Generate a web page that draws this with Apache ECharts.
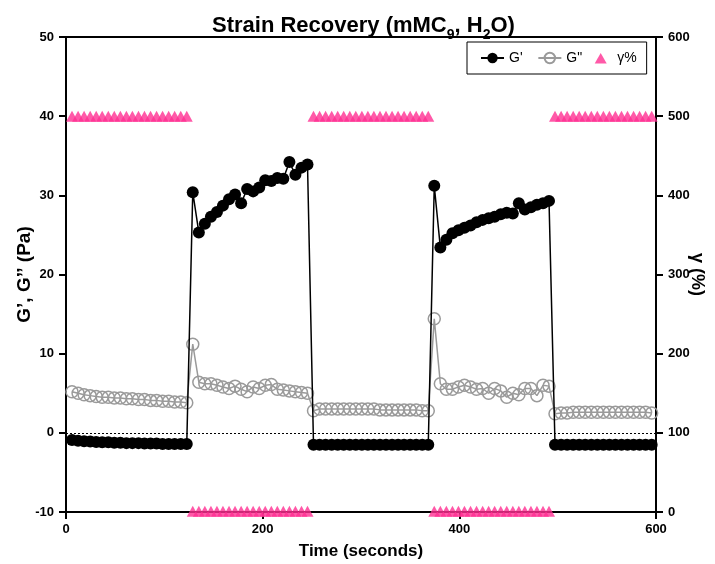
<!DOCTYPE html>
<html>
<head>
<meta charset="utf-8">
<script src="https://cdn.jsdelivr.net/npm/echarts@6/dist/echarts.min.js"></script>
<style>
  html, body { margin: 0; padding: 0; background: #fff; }
  #chart { width: 715px; height: 564px; }
</style>
</head>
<body>
<div id="chart"></div>
<script>
// Sample times (s) of the oscillatory sweep, five alternating strain blocks
const timeSec = [
  6.1, 12.3, 18.4, 24.6, 30.7, 36.8, 43.0, 49.1, 55.3, 61.4, 67.5, 73.7, 79.8, 86.0, 92.1, 98.2, 104.4, 110.5, 116.7, 122.8,
  128.9, 135.1, 141.2, 147.4, 153.5, 159.6, 165.8, 171.9, 178.1, 184.2, 190.3, 196.5, 202.6, 208.8, 214.9, 221.0, 227.2, 233.3, 239.5, 245.6,
  251.7, 257.9, 264.0, 270.2, 276.3, 282.4, 288.6, 294.7, 300.9, 307.0, 313.1, 319.3, 325.4, 331.6, 337.7, 343.8, 350.0, 356.1, 362.3, 368.4,
  374.5, 380.7, 386.8, 393.0, 399.1, 405.2, 411.4, 417.5, 423.7, 429.8, 435.9, 442.1, 448.2, 454.4, 460.5, 466.6, 472.8, 478.9, 485.1, 491.2,
  497.3, 503.5, 509.6, 515.8, 521.9, 528.0, 534.2, 540.3, 546.5, 552.6, 558.7, 564.9, 571.0, 577.2, 583.3, 589.4, 595.6
];

// Storage modulus G' (Pa)
const storageModulus = [
  -0.9, -1.0, -1.05, -1.1, -1.15, -1.2, -1.2, -1.25, -1.25, -1.3, -1.3, -1.3, -1.35, -1.35, -1.35, -1.4, -1.4, -1.4, -1.4, -1.4,
  30.4, 25.3, 26.4, 27.3, 27.9, 28.7, 29.5, 30.1, 29.0, 30.8, 30.5, 31.0, 31.9, 31.8, 32.2, 32.1, 34.2, 32.6, 33.5, 33.9,
  -1.5, -1.5, -1.5, -1.5, -1.5, -1.5, -1.5, -1.5, -1.5, -1.5, -1.5, -1.5, -1.5, -1.5, -1.5, -1.5, -1.5, -1.5, -1.5, -1.5,
  31.2, 23.4, 24.4, 25.2, 25.6, 25.9, 26.2, 26.6, 26.9, 27.1, 27.3, 27.6, 27.8, 27.7, 29.0, 28.2, 28.5, 28.8, 29.0, 29.3,
  -1.5, -1.5, -1.5, -1.5, -1.5, -1.5, -1.5, -1.5, -1.5, -1.5, -1.5, -1.5, -1.5, -1.5, -1.5, -1.5, -1.5
];

// Loss modulus G'' (Pa)
const lossModulus = [
  5.2, 5.0, 4.8, 4.7, 4.6, 4.5, 4.5, 4.4, 4.4, 4.3, 4.3, 4.2, 4.2, 4.1, 4.1, 4.0, 4.0, 3.9, 3.9, 3.8,
  11.2, 6.4, 6.2, 6.2, 6.0, 5.8, 5.6, 5.9, 5.5, 5.2, 5.8, 5.6, 6.0, 6.1, 5.5, 5.4, 5.3, 5.2, 5.1, 5.0,
  2.8, 3.0, 3.0, 3.0, 3.0, 3.0, 3.0, 3.0, 3.0, 3.0, 3.0, 2.9, 2.9, 2.9, 2.9, 2.9, 2.9, 2.9, 2.8, 2.8,
  14.4, 6.2, 5.5, 5.5, 5.8, 6.0, 5.8, 5.5, 5.6, 5.0, 5.6, 5.3, 4.5, 5.0, 4.8, 5.6, 5.6, 4.7, 6.0, 5.9,
  2.4, 2.5, 2.5, 2.6, 2.6, 2.6, 2.6, 2.6, 2.6, 2.6, 2.6, 2.6, 2.6, 2.6, 2.6, 2.6, 2.5
];

// Applied strain γ (%)
const strainPct = [
  500, 500, 500, 500, 500, 500, 500, 500, 500, 500, 500, 500, 500, 500, 500, 500, 500, 500, 500, 500,
  1, 1, 1, 1, 1, 1, 1, 1, 1, 1, 1, 1, 1, 1, 1, 1, 1, 1, 1, 1,
  500, 500, 500, 500, 500, 500, 500, 500, 500, 500, 500, 500, 500, 500, 500, 500, 500, 500, 500, 500,
  1, 1, 1, 1, 1, 1, 1, 1, 1, 1, 1, 1, 1, 1, 1, 1, 1, 1, 1, 1,
  500, 500, 500, 500, 500, 500, 500, 500, 500, 500, 500, 500, 500, 500, 500, 500, 500
];

const pair = (vals) => timeSec.map((t, i) => [t, vals[i]]);

const FONT = '"Liberation Sans", Arial, sans-serif';
const PINK = '#ff2f92';
const GREY = '#9a9a9a';

// small triangle for the legend, framed in a 23x13 box so it is not stretched
const LEGEND_TRIANGLE = 'path://M0,0M23,13M5.5,12L11.5,1.5L17.5,12Z';

const chart = echarts.init(document.getElementById('chart'), null, { renderer: 'canvas' });

const axisLabelStyle = { color: '#000', fontFamily: FONT, fontWeight: 'bold', fontSize: 13 };
const nameStyle = { color: '#000', fontFamily: FONT, fontWeight: 'bold', fontSize: 17 };
const axisCommon = {
  axisLine: { show: true, onZero: false, lineStyle: { color: '#000', width: 2 } },
  axisTick: { show: true, inside: false, length: 7, lineStyle: { color: '#000', width: 2 } },
  splitLine: { show: false },
  nameMoveOverlap: false
};

chart.setOption({
  animation: false,
  backgroundColor: '#fff',
  title: {
    text: '{a|Strain Recovery (mMC}{s|9}{a|, H}{s|2}{a|O)}',
    left: 207,
    top: 4,
    textStyle: {
      rich: {
        a: { fontFamily: FONT, fontWeight: 'bold', fontSize: 22, color: '#000', lineHeight: 24, verticalAlign: 'middle' },
        s: { fontFamily: FONT, fontWeight: 'bold', fontSize: 14, color: '#000', lineHeight: 33, verticalAlign: 'bottom' }
      }
    }
  },
  legend: {
    left: 467,
    top: 42,
    orient: 'horizontal',
    padding: [9, 10, 9, 13],
    itemGap: 7,
    itemWidth: 23,
    itemHeight: 13,
    borderColor: '#000',
    borderWidth: 1,
    textStyle: { color: '#000', fontFamily: FONT, fontSize: 14 },
    // the first entry carries a little extra room after its text
    formatter: (name) => (name === "G'" ? name + '  ' : name),
    data: ["G'", 'G"', { name: 'γ%', icon: LEGEND_TRIANGLE }]
  },
  grid: {
    left: 66, right: 59, top: 37, bottom: 52,
    outerBoundsMode: 'none',
    containLabel: false,
    show: true, borderColor: '#000', borderWidth: 2, backgroundColor: 'transparent'
  },
  xAxis: Object.assign({}, axisCommon, {
    type: 'value', min: 0, max: 600, interval: 200,
    name: 'Time (seconds)', nameLocation: 'middle', nameGap: 31,
    nameTextStyle: nameStyle,
    axisLabel: Object.assign({}, axisLabelStyle, { margin: 11 })
  }),
  yAxis: [
    Object.assign({}, axisCommon, {
      type: 'value', min: -10, max: 50, interval: 10, position: 'left',
      name: 'G’, G’’ (Pa)', nameLocation: 'middle', nameGap: 32,
      nameTextStyle: Object.assign({}, nameStyle, { fontSize: 19 }),
      axisLabel: Object.assign({}, axisLabelStyle, { margin: 12 })
    }),
    Object.assign({}, axisCommon, {
      type: 'value', min: 0, max: 600, interval: 100, position: 'right',
      name: 'γ (%)', nameLocation: 'middle', nameGap: 32, nameRotate: -90,
      nameTextStyle: Object.assign({}, nameStyle, { fontSize: 18 }),
      axisLabel: Object.assign({}, axisLabelStyle, { margin: 12 })
    })
  ],
  series: [
    {
      name: 'G"',
      type: 'line',
      yAxisIndex: 0,
      data: pair(lossModulus),
      symbol: 'circle',
      symbolSize: 12,
      clip: false,
      itemStyle: { color: 'rgba(255,255,255,0)', borderColor: GREY, borderWidth: 1.5 },
      lineStyle: { color: GREY, width: 1.5 },
      z: 3
    },
    {
      name: "G'",
      type: 'line',
      yAxisIndex: 0,
      data: pair(storageModulus),
      symbol: 'circle',
      symbolSize: 12,
      clip: false,
      itemStyle: { color: '#000' },
      lineStyle: { color: '#000', width: 1.5 },
      z: 4,
      markLine: {
        silent: true,
        symbol: 'none',
        label: { show: false },
        lineStyle: { color: '#000', type: [2, 2], width: 1 },
        data: [{ yAxis: 0 }]
      }
    },
    {
      name: 'γ%',
      type: 'scatter',
      yAxisIndex: 1,
      data: pair(strainPct),
      symbol: 'triangle',
      symbolSize: [12, 11],
      clip: false,
      itemStyle: { color: PINK },
      z: 5
    }
  ]
});
</script>
</body>
</html>
